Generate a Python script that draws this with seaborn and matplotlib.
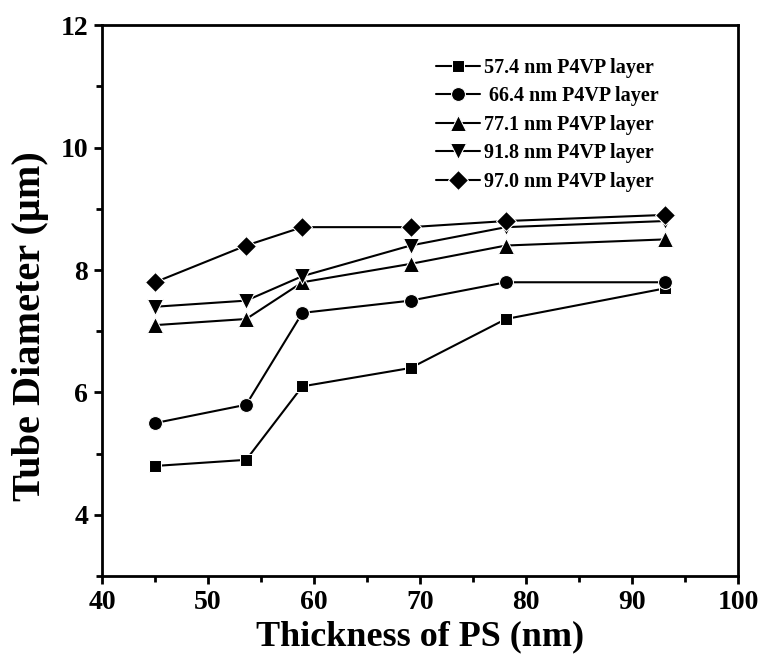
import numpy as np
import pandas as pd
import matplotlib
matplotlib.use('Agg')
import matplotlib.pyplot as plt
from matplotlib.ticker import MultipleLocator
import seaborn as sns

# 数据
thickness_ps = [45, 53.6, 58.9, 69.1, 78.1, 93.1]
layers = ['57.4 nm P4VP layer', ' 66.4 nm P4VP layer', '77.1 nm P4VP layer',
          '91.8 nm P4VP layer', '97.0 nm P4VP layer']
d_574 = [4.8, 4.9, 6.1, 6.4, 7.2, 7.7]
d_664 = [5.5, 5.8, 7.3, 7.5, 7.8, 7.8]
d_771 = [7.1, 7.2, 7.8, 8.1, 8.4, 8.5]
d_918 = [7.4, 7.5, 7.9, 8.4, 8.7, 8.8]
d_970 = [7.8, 8.4, 8.7, 8.7, 8.8, 8.9]
marker_list = ['s', 'o', '^', 'v', 'D']
marker_sizes = [9, 10, 11, 11, 10]

rows = []
for name, vals in zip(layers, [d_574, d_664, d_771, d_918, d_970]):
    for x, y in zip(thickness_ps, vals):
        rows.append({'thickness': x, 'diameter': y, 'layer': name})
df = pd.DataFrame(rows)

sns.set_style('ticks')
plt.rcParams['font.family'] = ['Liberation Serif', 'DejaVu Serif']
plt.rcParams['font.weight'] = 'bold'
for k in ['text.color', 'axes.labelcolor', 'xtick.color', 'ytick.color', 'axes.edgecolor']:
    plt.rcParams[k] = 'black'

fig = plt.figure(figsize=(7.61, 6.60), dpi=100)
ax = fig.add_axes([0.134, 0.127, 0.836, 0.835])

sns.lineplot(data=df, x='thickness', y='diameter', style='layer',
             markers=dict(zip(layers, marker_list)), dashes=False,
             color='black', linewidth=1.5, markersize=9, ax=ax)

# 调整每条线的标记大小
for line, ms in zip(ax.lines, marker_sizes):
    line.set_markersize(ms)

ax.set_xlim(40, 100)
ax.set_ylim(3, 12)
ax.xaxis.set_major_locator(MultipleLocator(10))
ax.xaxis.set_minor_locator(MultipleLocator(5))
ax.yaxis.set_major_locator(MultipleLocator(2))
ax.yaxis.set_minor_locator(MultipleLocator(1))
ax.set_yticks([4, 6, 8, 10, 12])
ax.tick_params(which='major', direction='out', length=6, width=2, labelsize=20, pad=4)
ax.tick_params(which='minor', direction='out', length=4, width=2)
for lab in ax.get_xticklabels() + ax.get_yticklabels():
    lab.set_fontweight('bold')
for s in ax.spines.values():
    s.set_linewidth(2)
    s.set_visible(True)

ax.set_xlabel('Thickness of PS (nm)', fontsize=26, fontweight='bold', labelpad=4)
ax.set_ylabel('Tube Diameter (μm)', fontsize=29, fontweight='bold')
ax.yaxis.set_label_coords(-0.083, 0.454)

leg = ax.legend(loc='upper left', bbox_to_anchor=(0.512, 0.955), frameon=False,
                prop={'size': 14.5, 'weight': 'bold'}, handlelength=2.2,
                handletextpad=0.2, labelspacing=0.42, borderaxespad=0)
for h, ms in zip(leg.legend_handles, marker_sizes):
    h.set_markersize(ms)

plt.savefig('out.png', dpi=100)
